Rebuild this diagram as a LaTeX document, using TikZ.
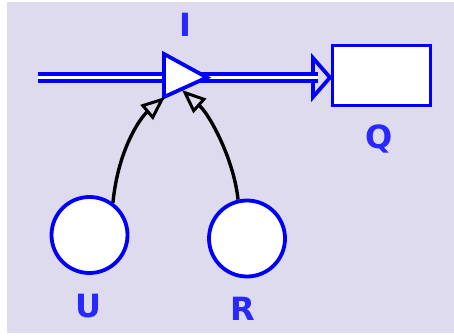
\documentclass[tikz,border=0pt]{standalone}
\usepackage{fontspec}
\setmainfont{DejaVu Sans}
\usetikzlibrary{arrows.meta}
\definecolor{bglav}{RGB}{221,219,237}
\definecolor{sdblue}{RGB}{0,0,250}
\definecolor{lblblue}{RGB}{40,40,255}
\tikzset{
  pipe/.style={draw=sdblue, line width=4.5pt, double=white, double distance=2.5pt},
  valvebox/.style={draw=sdblue, line width=3.8pt, fill=white, line join=miter},
  stockbox/.style={draw=sdblue, line width=3.8pt, fill=white, minimum width=98pt, minimum height=60pt, inner sep=0pt},
  auxcirc/.style={draw=sdblue, line width=3.8pt, fill=white, circle, minimum size=76pt, inner sep=0pt},
  lbl/.style={text=lblblue, font=\fontsize{32}{34}\selectfont\bfseries, inner sep=0pt, anchor=base},
  link/.style={draw=black, line width=3.4pt, -{Triangle[open, length=24pt, width=19pt, line width=3pt]}},
  flowhead/.style={draw=sdblue, line width=3.8pt, fill=bglav, line join=miter}
}
\begin{document}
\begin{tikzpicture}[x=1pt,y=-1pt]
\useasboundingbox (0,0) rectangle (454,336);
\fill[white] (0,0) rectangle (454,336);
\fill[bglav] (7,2) rectangle (454,333);
% stock
\node[stockbox] (Q) at (381.5,75.5) {};
\node[lbl] (Ql) at (379,149) {Q};
% flow pipe
\coordinate (src) at (38,77.5);
\coordinate (pend) at (318,77.5);
\draw[flowhead] (313,58) -- (330,77.5) -- (313,97) -- cycle;
\draw[pipe] (src) -- (pend);
% valve
\coordinate (vl) at (164,77.5);
\draw[valvebox] (164,54) -- (207,77.5) -- (164,97) -- cycle;
\node[lbl] (Il) at (185,37) {I};
% auxiliaries
\node[auxcirc] (U) at (89.5,235) {};
\node[auxcirc] (R) at (247,238.5) {};
\node[lbl] (Ul) at (88,317) {U};
\node[lbl] (Rl) at (243,320) {R};
% links
\coordinate (ut) at (165,97);
\coordinate (rt) at (182,90);
\draw[link] (U.54) .. controls (118,150) and (140,118) .. (ut);
\draw[link] (R.103) .. controls (234,160) and (210,115) .. (rt);
\end{tikzpicture}
\end{document}
